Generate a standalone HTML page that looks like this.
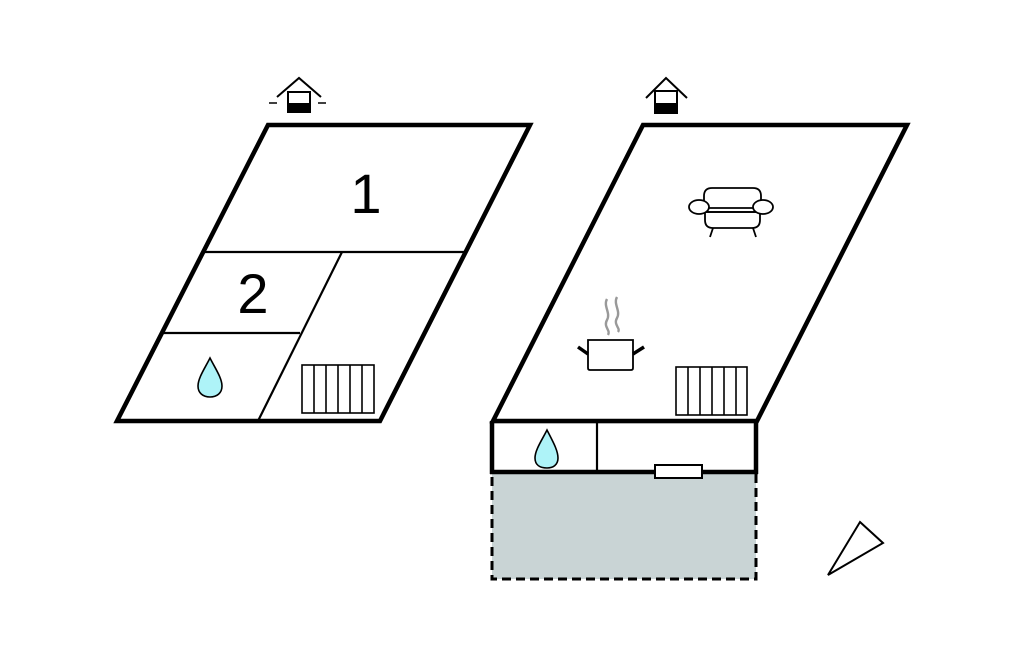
<!DOCTYPE html>
<html>
<head>
<meta charset="utf-8">
<style>
html,body{margin:0;padding:0;background:#fff;}
svg{display:block;}
</style>
</head>
<body>
<svg width="1024" height="652" viewBox="0 0 1024 652" xmlns="http://www.w3.org/2000/svg">
  <rect width="1024" height="652" fill="#fff"/>

  <!-- LEFT BUILDING -->
  <g stroke="#000" fill="none">
    <polyline points="277,97 299,78 321,97" stroke-width="2"/>
    <rect x="288" y="92" width="22" height="20" fill="#fff" stroke-width="2"/>
    <rect x="287" y="103" width="24" height="10" fill="#000" stroke="none"/>
    <line x1="269" y1="103" x2="277" y2="103" stroke-width="1.5"/>
    <line x1="318" y1="103" x2="326" y2="103" stroke-width="1.5"/>
  </g>

  <g stroke="#000" stroke-width="2.2" fill="none">
    <line x1="204" y1="252" x2="466" y2="252"/>
    <line x1="342" y1="252" x2="258" y2="421"/>
    <line x1="162" y1="333" x2="300" y2="333"/>
  </g>
  <polygon points="268,125 530,125 380,421 117,421" fill="none" stroke="#000" stroke-width="4.5" stroke-linejoin="miter"/>

  <text x="366" y="213" font-family="Liberation Sans, sans-serif" font-size="56" text-anchor="middle" fill="#000">1</text>
  <text x="253" y="313" font-family="Liberation Sans, sans-serif" font-size="56" text-anchor="middle" fill="#000">2</text>

  <path d="M210,358 C205,368 198,378 198,386 C198,393 203,397 210,397 C217,397 222,393 222,386 C222,378 215,368 210,358 Z" fill="#aef3f8" stroke="#000" stroke-width="1.6"/>

  <g stroke="#000" stroke-width="1.6" fill="#fff">
    <rect x="302" y="365" width="72" height="48"/>
    <line x1="314" y1="365" x2="314" y2="413"/>
    <line x1="326" y1="365" x2="326" y2="413"/>
    <line x1="338" y1="365" x2="338" y2="413"/>
    <line x1="350" y1="365" x2="350" y2="413"/>
    <line x1="362" y1="365" x2="362" y2="413"/>
  </g>

  <!-- RIGHT BUILDING -->
  <g stroke="#000" fill="none">
    <polyline points="646,98 666,78 687,98" stroke-width="2"/>
    <rect x="655" y="91" width="22" height="21" fill="#fff" stroke-width="2"/>
    <rect x="654" y="103" width="24" height="11" fill="#000" stroke="none"/>
  </g>

  <rect x="492" y="472" width="264" height="107" fill="#c9d4d5" stroke="#000" stroke-width="3" stroke-dasharray="9,5"/>

  <g stroke="#000" fill="none">
    <line x1="493" y1="422" x2="756" y2="422" stroke-width="2.2"/>
    <line x1="597" y1="422" x2="597" y2="472" stroke-width="2.2"/>
    <line x1="492" y1="421" x2="492" y2="474" stroke-width="4.5"/>
    <line x1="756" y1="421" x2="756" y2="474" stroke-width="4.5"/>
    <line x1="490" y1="472" x2="758" y2="472" stroke-width="4.5"/>
  </g>
  <rect x="655" y="465" width="47" height="13" fill="#fff" stroke="#000" stroke-width="2"/>

  <polygon points="643,125 907,125 757,421 493,421" fill="none" stroke="#000" stroke-width="4.5" stroke-linejoin="miter"/>

  <path d="M547,430 C542,440 535,450 535,458 C535,465 540,468 547,468 C553,468 558,465 558,458 C558,450 552,440 547,430 Z" fill="#aef3f8" stroke="#000" stroke-width="1.6"/>

  <g stroke="#000" stroke-width="1.6" fill="#fff">
    <rect x="676" y="367" width="71" height="48"/>
    <line x1="688" y1="367" x2="688" y2="415"/>
    <line x1="700" y1="367" x2="700" y2="415"/>
    <line x1="712" y1="367" x2="712" y2="415"/>
    <line x1="724" y1="367" x2="724" y2="415"/>
    <line x1="736" y1="367" x2="736" y2="415"/>
  </g>

  <!-- pot -->
  <g stroke="#000" fill="none">
    <path d="M588,340 L633,340 L633,368 Q633,370 631,370 L590,370 Q588,370 588,368 Z" fill="#fff" stroke-width="1.8"/>
    <line x1="578" y1="347" x2="588" y2="354" stroke-width="3.5"/>
    <line x1="633" y1="354" x2="644" y2="347" stroke-width="3.5"/>
  </g>
  <g stroke="#999" stroke-width="2.4" fill="none">
    <path d="M607,299 C603,306 611,313 607,320 C603,327 611,330 608,335"/>
    <path d="M617,297 C613,304 621,311 617,318 C613,325 621,328 618,332"/>
  </g>

  <!-- sofa -->
  <g stroke="#000" stroke-width="1.8" fill="#fff">
    <path d="M704,208 L704,196 Q704,188 712,188 L753,188 Q761,188 761,196 L761,208 Z"/>
    <path d="M705,212 L705,220 Q705,228 713,228 L752,228 Q760,228 760,220 L760,212 Z"/>
    <line x1="705" y1="212" x2="760" y2="212"/>
    <ellipse cx="699" cy="207" rx="10" ry="7"/>
    <ellipse cx="763" cy="207" rx="10" ry="7"/>
    <line x1="713" y1="228" x2="710" y2="237"/>
    <line x1="753" y1="228" x2="756" y2="237"/>
  </g>

  <polygon points="860,522 883,543 828,575" fill="#fff" stroke="#000" stroke-width="2" stroke-linejoin="miter"/>
</svg>
</body>
</html>
